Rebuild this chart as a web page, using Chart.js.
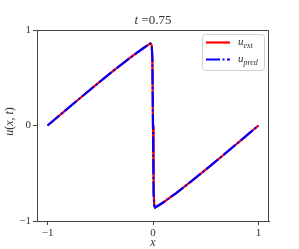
<!DOCTYPE html>
<html>
<head>
<meta charset="utf-8">
<script src="https://cdn.jsdelivr.net/npm/chart.js@4"></script>
<style>html,body{margin:0;padding:0;background:#fff}</style>
</head>
<body>
<canvas id="chart" width="299" height="249"></canvas>
<script>
// values (t = 0.75)
const xExt = [-1, -0.833, -0.668, -0.509, -0.359, -0.22, -0.093, -0.045, -0.025, -0.012, -0.006, 0, 0.006, 0.012, 0.02, 0.04, 0.093, 0.22, 0.359, 0.509, 0.668, 0.833, 1];
const uExt = [0, 0.156, 0.309, 0.454, 0.588, 0.707, 0.809, 0.845, 0.86, 0.84, 0.7, 0, -0.7, -0.84, -0.86, -0.845, -0.809, -0.707, -0.588, -0.454, -0.309, -0.156, 0];
const xPred = [-1, -0.833, -0.668, -0.509, -0.359, -0.22, -0.093, -0.045, -0.025, -0.012, -0.006, 0, 0.006, 0.012, 0.02, 0.04, 0.093, 0.22, 0.359, 0.509, 0.668, 0.833, 1];
const uPred = [0, 0.156, 0.309, 0.454, 0.588, 0.707, 0.809, 0.845, 0.858, 0.84, 0.7, 0, -0.7, -0.84, -0.858, -0.845, -0.809, -0.707, -0.588, -0.454, -0.309, -0.156, 0];
const xTicks = [-1, 0, 1];
const yTicks = [-1, 0, 1];

const serif = '"Liberation Serif", "DejaVu Serif", serif';
const axisColor = '#444';
const textColor = '#333';
const dashDot = [15.5, 2.5, 2, 2.5];

function pts(xs, ys) {
    return xs.map((x, i) => ({x: x, y: ys[i]}));
}
function fmt(v) {
    return v < 0 ? '\u2212' + Math.abs(v) : String(v);
}

// draws italic base + subscript, returns width
function mathText(ctx, base, sub, x, y, size) {
    ctx.font = 'italic ' + size + 'px ' + serif;
    ctx.fillText(base, x, y);
    let w = ctx.measureText(base).width;
    if (sub) {
        ctx.font = 'italic ' + Math.round(size * 0.7) + 'px ' + serif;
        ctx.fillText(sub, x + w, y + size * 0.25);
        w += ctx.measureText(sub).width;
    }
    return w;
}

const decor = {
    id: 'decor',
    afterDraw(chart) {
        const ctx = chart.ctx;
        const a = chart.chartArea;
        ctx.save();
        // frame top and right
        ctx.strokeStyle = axisColor;
        ctx.lineWidth = 1;
        ctx.beginPath();
        ctx.moveTo(a.left, a.top + 0.5);
        ctx.lineTo(a.right - 0.5, a.top + 0.5);
        ctx.lineTo(a.right - 0.5, a.bottom);
        ctx.stroke();

        ctx.fillStyle = textColor;
        ctx.textBaseline = 'alphabetic';
        // title
        const cx = (a.left + a.right) / 2;
        ctx.font = 'italic 13px ' + serif;
        const w1 = ctx.measureText('t').width;
        ctx.font = '13px ' + serif;
        const w2 = ctx.measureText(' =0.75').width;
        let tx = cx - (w1 + w2) / 2;
        ctx.font = 'italic 13px ' + serif;
        ctx.fillText('t', tx, 24);
        ctx.font = '13px ' + serif;
        ctx.fillText(' =0.75', tx + w1, 24);

        // x label
        ctx.font = 'italic 12px ' + serif;
        ctx.textAlign = 'center';
        ctx.fillText('x', cx, 246);

        // y label
        ctx.save();
        ctx.translate(13, (a.top + a.bottom) / 2 - 4);
        ctx.rotate(-Math.PI / 2);
        ctx.textAlign = 'left';
        const parts = [['u', true], ['(', false], ['x', true], [', ', false], ['t', true], [')', false]];
        let tw = 0;
        parts.forEach(p => { ctx.font = (p[1] ? 'italic ' : '') + '12px ' + serif; tw += ctx.measureText(p[0]).width; });
        let px = -tw / 2;
        parts.forEach(p => {
            ctx.font = (p[1] ? 'italic ' : '') + '12px ' + serif;
            ctx.fillText(p[0], px, 0);
            px += ctx.measureText(p[0]).width;
        });
        ctx.restore();

        // legend
        const lx = 202, ly = 34, lw = 62, lh = 36;
        ctx.beginPath();
        ctx.roundRect(lx + 0.5, ly + 0.5, lw, lh, 3);
        ctx.fillStyle = 'rgba(255,255,255,0.8)';
        ctx.fill();
        ctx.strokeStyle = '#d0d0d0';
        ctx.stroke();

        ctx.lineWidth = 2.2;
        ctx.strokeStyle = 'red';
        ctx.beginPath();
        ctx.moveTo(206, 42.5);
        ctx.lineTo(230, 42.5);
        ctx.stroke();
        ctx.strokeStyle = 'blue';
        ctx.setLineDash([14, 2.5, 2, 2.5]);
        ctx.beginPath();
        ctx.moveTo(206, 59.5);
        ctx.lineTo(230, 59.5);
        ctx.stroke();
        ctx.setLineDash([]);

        ctx.fillStyle = textColor;
        ctx.textAlign = 'left';
        mathText(ctx, 'u', 'ext', 238, 45, 11);
        mathText(ctx, 'u', 'pred', 238, 62, 11);
        ctx.restore();
    }
};

const ctx = document.getElementById('chart').getContext('2d');
new Chart(ctx, {
    type: 'scatter',
    data: {
        datasets: [{
            label: 'u_ext',
            data: pts(xExt, uExt),
            showLine: true,
            borderColor: 'red',
            borderWidth: 2.2,
            pointRadius: 0,
            order: 2
        }, {
            label: 'u_pred',
            data: pts(xPred, uPred),
            showLine: true,
            borderColor: 'blue',
            borderWidth: 2.2,
            borderDash: dashDot,
            pointRadius: 0,
            order: 1
        }]
    },
    options: {
        responsive: false,
        animation: false,
        layout: {padding: {top: 30, right: 30, left: 0, bottom: 0}},
        plugins: {legend: {display: false}, tooltip: {enabled: false}},
        scales: {
            x: {
                type: 'linear',
                min: -1.1,
                max: 1.1,
                afterBuildTicks: s => { s.ticks = xTicks.map(v => ({value: v})); },
                afterFit: s => { s.height = 28; },
                ticks: {callback: fmt, color: textColor, padding: 2, maxRotation: 0, font: {family: serif, size: 11}},
                grid: {drawOnChartArea: false, tickLength: 4, color: axisColor},
                border: {color: axisColor, width: 1}
            },
            y: {
                min: -1,
                max: 1,
                afterBuildTicks: s => { s.ticks = yTicks.map(v => ({value: v})); },
                afterFit: s => { s.width = 37; },
                ticks: {callback: fmt, color: textColor, padding: 2, font: {family: serif, size: 11}},
                grid: {drawOnChartArea: false, tickLength: 4, color: axisColor},
                border: {color: axisColor, width: 1}
            }
        }
    },
    plugins: [decor]
});
</script>
</body>
</html>
